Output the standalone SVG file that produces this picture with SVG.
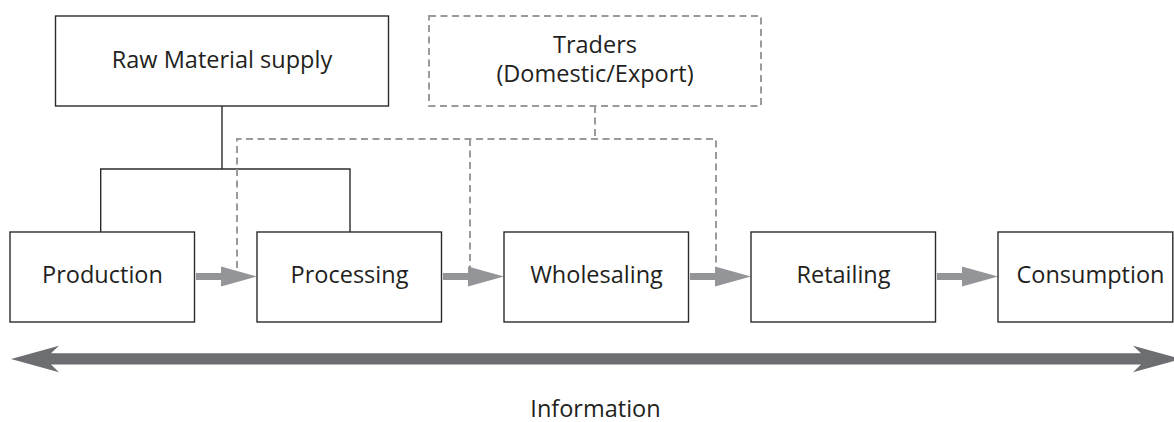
<svg xmlns="http://www.w3.org/2000/svg" width="1174" height="422" viewBox="0 0 1174 422">
<style>
.box{fill:#fff;stroke:#2b2b2b;stroke-width:1.4}
.dbox{fill:#fff;stroke:#9a9a9c;stroke-width:2;stroke-dasharray:7 4.5}
.t{font-family:"Open Sans","Noto Sans",sans-serif;font-size:23.5px;fill:#231f20;text-anchor:middle}
.solid{fill:none;stroke:#2b2b2b;stroke-width:1.4}
.dash{fill:none;stroke:#9a9a9c;stroke-width:2;stroke-dasharray:7 4.5}
.flow{fill:#939598}
.info{fill:#6d6e71}
</style>
<rect width="1174" height="422" fill="#fff"/>
<g id="connectors">
<path class="solid" d="M222 106V169M100.7 232V169H350V232"/>
<path class="dash" d="M595 106V139M237 268V139H716V268M470 139V268"/>
<path class="flow" d="M196 273H221V266.5L257 276.5L221 286.5V280H196Z"/>
<path class="flow" d="M443 273H468V266.5L504 276.5L468 286.5V280H443Z"/>
<path class="flow" d="M690 273H715V266.5L751 276.5L715 286.5V280H690Z"/>
<path class="flow" d="M937 273H962V266.5L998 276.5L962 286.5V280H937Z"/>
<path class="info" d="M11 359L59 345.7L51 353.3H1141L1133 345.7L1181 359L1133 372.3L1141 364.5H51L59 372.3Z"/>
</g>
<g id="raw">
<rect class="box" x="55.5" y="16" width="333" height="90"/>
<text class="t" x="222" y="68">Raw Material supply</text>
</g>
<g id="traders">
<rect class="dbox" x="429" y="16" width="332" height="90"/>
<text class="t" x="595" y="52.5">Traders</text>
<text class="t" x="595" y="82">(Domestic/Export)</text>
</g>
<g id="production">
<rect class="box" x="10" y="232" width="184.5" height="90"/>
<text class="t" x="102.5" y="283">Production</text>
</g>
<g id="processing">
<rect class="box" x="257" y="232" width="184.5" height="90"/>
<text class="t" x="349.5" y="283">Processing</text>
</g>
<g id="wholesaling">
<rect class="box" x="504" y="232" width="184.5" height="90"/>
<text class="t" x="596.5" y="283">Wholesaling</text>
</g>
<g id="retailing">
<rect class="box" x="751" y="232" width="184.5" height="90"/>
<text class="t" x="843.5" y="283">Retailing</text>
</g>
<g id="consumption">
<rect class="box" x="998" y="232" width="174.8" height="90"/>
<text class="t" x="1090.5" y="283">Consumption</text>
</g>
<g id="information">
<text class="t" x="595.5" y="417">Information</text>
</g>
</svg>
